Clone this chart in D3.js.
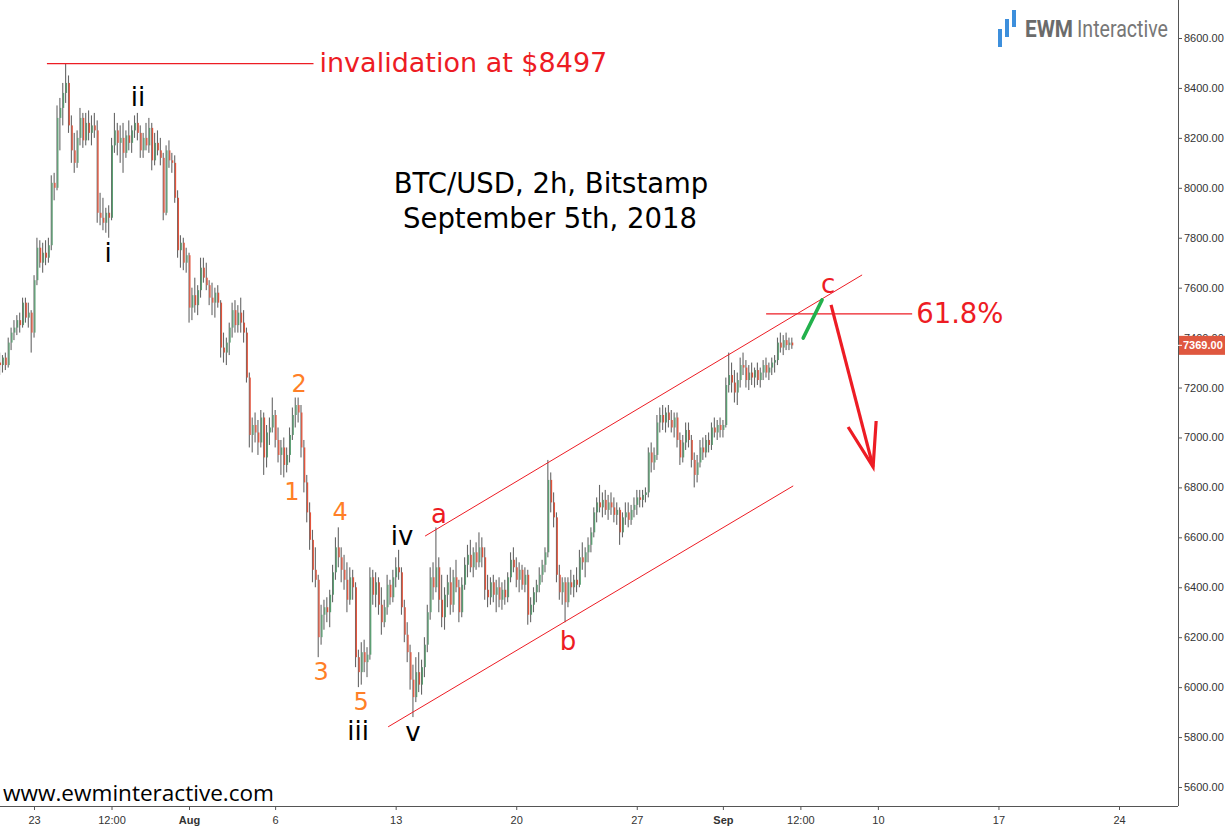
<!DOCTYPE html>
<html><head><meta charset="utf-8">
<script src="https://cdn.jsdelivr.net/npm/d3@7"></script>
<style>body{margin:0;background:#fff;} svg{display:block;}</style>
</head><body><svg id="c" width="1225" height="828"></svg>
<script>
// ---------- DATA ----------
const startTime = "2018-07-21T00:00Z";   // first 4h candle
const candleHours = 4;
const opens = [
7300,7290,7320,7290,7380,7420, 7440,7470,7450,7540,7480,7500, 7420,7630,7760,7700,7740,7720,
7770,8020,8000,8280,8320,8380, 8420,8250,8150,8100,8200,8280, 8190,8260,8220,8250,8230,7900,
7880,7860,7900,7880,8170,8230, 8180,8200,8140,8210,8180,8230, 8260,8220,8150,8200,8170,8240,
8110,8180,8150,8120,7900,8150, 8110,8100,7960,7750,7780,7700, 7730,7520,7570,7530,7590,7680,
7640,7610,7560,7540,7580,7540, 7360,7340,7380,7440,7510,7450, 7500,7460,7420,7240,7010,7050,
7020,6980,7080,6920,7020,7040, 7090,6990,6930,6960,6890,6930, 7010,7090,7130,7100,6960,6820,
6700,6590,6470,6430,6200,6290, 6320,6300,6370,6460,6560,6520, 6470,6430,6350,6440,6400,6120,
6060,6140,6100,6130,6440,6370, 6420,6330,6260,6320,6410,6360, 6440,6480,6460,6320,6210,6140,
6030,5960,6060,6010,6080,6170, 6300,6440,6400,6480,6350,6280, 6370,6420,6330,6440,6400,6300,
6410,6490,6530,6480,6540,6500, 6560,6520,6390,6360,6420,6370, 6400,6350,6390,6360,6440,6510,
6480,6430,6470,6410,6450,6290, 6330,6380,6410,6450,6490,6540, 6830,6740,6680,6450,6380,6420,
6340,6420,6400,6430,6410,6520, 6500,6540,6570,6620,6700,6740, 6720,6750,6710,6740,6720,6690,
6710,6620,6680,6700,6670,6710, 6730,6760,6750,6770,6780,6940, 6900,6930,7060,7090,7060,7100,
7070,7040,7080,6990,6920,6980, 7030,6990,6910,6850,6900,6960, 6940,6990,6970,7040,7020,7050,
7030,7050,7210,7250,7220,7180, 7230,7290,7280,7230,7260,7240, 7270,7230,7260,7290,7260,7280,
7300,7310,7380,7360,7390,7370, 7380];
const highs = [
7340,7330,7340,7400,7440,7470, 7490,7500,7560,7560,7540,7510, 7650,7800,7790,7780,7790,7800,
8050,8060,8330,8360,8420,8497, 8450,8290,8220,8230,8320,8300, 8300,8310,8290,8300,8270,7980,
7960,7920,7930,8200,8300,8260, 8250,8260,8230,8270,8250,8290, 8300,8250,8220,8260,8280,8260,
8220,8230,8200,8140,8170,8190, 8140,8130,7990,7810,7800,7760, 7740,7600,7640,7610,7720,7720,
7700,7630,7620,7600,7610,7550, 7420,7400,7460,7540,7550,7530, 7560,7510,7440,7260,7080,7100,
7070,7110,7100,7050,7080,7160, 7110,7040,6990,7000,6960,7040, 7120,7160,7160,7130,6990,6850,
6740,6630,6560,6450,6330,6350, 6360,6390,6490,6600,6640,6560, 6530,6500,6480,6470,6420,6150,
6180,6190,6160,6480,6470,6460, 6440,6400,6350,6450,6430,6470, 6520,6550,6480,6350,6260,6170,
6090,6120,6140,6110,6200,6330, 6480,6500,6640,6520,6450,6400, 6450,6480,6470,6510,6430,6440,
6520,6570,6590,6560,6580,6620, 6600,6560,6450,6440,6450,6430, 6440,6420,6430,6460,6540,6560,
6520,6500,6490,6480,6470,6360, 6400,6430,6480,6510,6560,6910, 6860,6780,6700,6490,6440,6440,
6440,6470,6450,6480,6550,6580, 6560,6600,6640,6720,6760,6810, 6780,6790,6770,6780,6760,6740,
6720,6700,6740,6740,6730,6760, 6790,6790,6790,6800,6960,6980, 6960,7090,7120,7130,7120,7130,
7110,7100,7100,7020,7010,7060, 7060,7010,6940,6930,6990,7000, 7010,7020,7060,7080,7070,7080,
7070,7240,7340,7300,7270,7260, 7320,7340,7310,7290,7300,7280, 7300,7280,7310,7320,7300,7320,
7330,7400,7420,7410,7420,7400, 7400];
const lows = [
7250,7260,7270,7280,7350,7390, 7410,7420,7440,7460,7440,7340, 7400,7610,7680,7660,7690,7700,
7750,7950,7990,8150,8250,8340, 8220,8100,8060,8080,8170,8160, 8170,8190,8170,8200,7860,7850,
7830,7820,7800,7870,8140,8130, 8100,8060,8120,8150,8140,8200, 8190,8120,8120,8150,8140,8070,
8090,8130,8090,7870,7890,8080, 8060,7940,7720,7680,7670,7660, 7460,7470,7500,7490,7560,7620,
7590,7530,7490,7480,7520,7320, 7300,7290,7330,7400,7420,7420, 7420,7380,7220,6960,6940,6980,
6930,6960,6850,6880,6970,7020, 6960,6900,6850,6840,6860,6900, 6990,7040,7060,6920,6780,6660,
6550,6420,6400,6120,6170,6230, 6260,6240,6340,6430,6480,6420, 6390,6300,6330,6350,6080,6000,
6010,6060,6040,6110,6330,6320, 6290,6210,6240,6290,6330,6340, 6400,6430,6290,6180,6100,5990,
5880,5940,5980,5970,6040,6140, 6270,6350,6380,6300,6240,6230, 6320,6290,6300,6380,6260,6280,
6390,6440,6460,6440,6470,6480, 6480,6350,6320,6330,6340,6300, 6320,6310,6330,6340,6420,6460,
6400,6380,6390,6380,6250,6260, 6300,6340,6380,6420,6460,6520, 6700,6640,6420,6350,6330,6260,
6320,6370,6360,6380,6400,6470, 6440,6500,6540,6600,6660,6700, 6680,6690,6670,6690,6660,6650,
6570,6600,6650,6640,6650,6680, 6690,6720,6720,6740,6760,6860, 6870,6910,7020,7030,7020,7040,
7020,7000,6960,6890,6900,6950, 6960,6880,6800,6820,6880,6910, 6920,6940,6950,7000,6990,7000,
7000,7040,7180,7180,7140,7130, 7200,7250,7200,7190,7210,7200, 7210,7200,7230,7240,7230,7250,
7260,7290,7340,7330,7350,7350, 7355];
const closes = [
7290,7320,7290,7380,7420,7440, 7470,7450,7540,7480,7500,7420, 7630,7760,7700,7740,7720,7770,
8020,8000,8280,8320,8380,8420, 8250,8150,8100,8200,8280,8190, 8260,8220,8250,8230,7900,7880,
7860,7900,7880,8170,8230,8180, 8200,8140,8210,8180,8230,8260, 8220,8150,8200,8170,8240,8110,
8180,8150,8120,7900,8150,8110, 8100,7960,7750,7780,7700,7730, 7520,7570,7530,7590,7680,7640,
7610,7560,7540,7580,7540,7360, 7340,7380,7440,7510,7450,7500, 7460,7420,7240,7010,7050,7020,
6980,7080,6920,7020,7040,7090, 6990,6930,6960,6890,6930,7010, 7090,7130,7100,6960,6820,6700,
6590,6470,6430,6200,6290,6320, 6300,6370,6460,6560,6520,6470, 6430,6350,6440,6400,6120,6060,
6140,6100,6130,6440,6370,6420, 6330,6260,6320,6410,6360,6440, 6480,6460,6320,6210,6140,6030,
5960,6060,6010,6080,6170,6300, 6440,6400,6480,6350,6280,6370, 6420,6330,6440,6400,6300,6410,
6490,6530,6480,6540,6500,6560, 6520,6390,6360,6420,6370,6400, 6350,6390,6360,6440,6510,6480,
6430,6470,6410,6450,6290,6330, 6380,6410,6450,6490,6540,6830, 6740,6680,6450,6380,6420,6340,
6420,6400,6430,6410,6520,6500, 6540,6570,6620,6700,6740,6720, 6750,6710,6740,6720,6690,6710,
6620,6680,6700,6670,6710,6730, 6760,6750,6770,6780,6940,6900, 6930,7060,7090,7060,7100,7070,
7040,7080,6990,6920,6980,7030, 6990,6910,6850,6900,6960,6940, 6990,6970,7040,7020,7050,7030,
7050,7210,7250,7220,7180,7230, 7290,7280,7230,7260,7240,7270, 7230,7260,7290,7260,7280,7300,
7310,7380,7360,7390,7370,7380, 7369];
const lastPrice = 7369;

const xTickDates = ["2018-07-23T00:00Z","2018-07-27T12:00Z","2018-08-01T00:00Z","2018-08-06T00:00Z",
  "2018-08-13T00:00Z","2018-08-20T00:00Z","2018-08-27T00:00Z","2018-09-01T00:00Z",
  "2018-09-05T12:00Z","2018-09-10T00:00Z","2018-09-17T00:00Z","2018-09-24T00:00Z"];
const xTickLabels = ["23","12:00","Aug","6","13","20","27","Sep","12:00","10","17","24"];
const xTickBold = ["Aug","Sep"];
const yTicks = [5600,5800,6000,6200,6400,6600,6800,7000,7200,7400,7600,7800,8000,8200,8400,8600];

// annotation data (date, price)
const invalidationLevel = 8497;
const invalidationSpan = ["2018-07-23T18:00Z","2018-08-08T05:30Z"];
const fibLevel = 7495;
const fibSpan = ["2018-09-03T12:15Z","2018-09-11T23:45Z"];
const channelUpperDates = ["2018-08-14T17:00Z","2018-09-09T02:00Z"];
const channelUpperPrices = [6605,7651];
const channelLowerDates = ["2018-08-12T13:30Z","2018-09-05T02:00Z"];
const channelLowerPrices = [5841,6806];
const forecastUpDates = ["2018-09-05T15:50Z","2018-09-06T18:15Z"];
const forecastUpPrices = [7398,7551];
const arrowShaftDates = ["2018-09-07T06:45Z","2018-09-09T17:20Z"];
const arrowShaftPrices = [7531,6882];
const arrowHeadDates = ["2018-09-08T06:30Z","2018-09-09T17:20Z","2018-09-09T21:35Z"];
const arrowHeadPrices = [7042,6882,7066];

const waveText   = ["ii","i","2","1","4","3","5","iii","iv","v","a","b","c"];
const waveDates  = ["2018-07-29T01:00Z","2018-07-27T07:10Z","2018-08-07T09:20Z","2018-08-06T23:30Z",
  "2018-08-09T18:30Z","2018-08-08T16:00Z","2018-08-10T23:45Z","2018-08-10T19:40Z","2018-08-13T09:00Z",
  "2018-08-14T00:15Z","2018-08-15T12:30Z","2018-08-23T00:15Z","2018-09-07T02:40Z"];
const wavePrices = [8328,7703,7182,6750,6670,6029,5909,5788,6569,5784,6658,6149,7579];
const waveDegree = ["minor","minor","minute","minute","minute","minute","minute","minor","minor","minor","abc","abc","abc"];

// ---------- CHART ----------
const W = 1225, H = 828, plotR = 1178, plotB = 806;
const svg = d3.select("#c");
const x = d3.scaleUtc().domain([new Date("2018-07-23T00:00Z"), new Date("2018-09-24T00:00Z")]).range([34,1119]);
const y = d3.scaleLinear().domain([5600,8600]).range([787,38]);
const t0 = new Date(startTime).getTime();
const candles = closes.map((c,i)=>({t:new Date(t0 + i*candleHours*3600e3), o:opens[i], h:highs[i], l:lows[i], c:c}));

svg.append("rect").attr("width",W).attr("height",H).attr("fill","#fff");
svg.append("clipPath").attr("id","plot").append("rect").attr("width",plotR).attr("height",plotB);

const pg = svg.append("g").attr("clip-path","url(#plot)");
// wicks
pg.append("g").selectAll("rect").data(candles).join("rect")
  .attr("x",d=>x(d.t)-0.5).attr("width",1.1)
  .attr("y",d=>y(d.h)).attr("height",d=>Math.max(1,y(d.l)-y(d.h)))
  .attr("fill","#676767");
// bodies
pg.append("g").selectAll("rect").data(candles).join("rect")
  .attr("x",d=>x(d.t)+0.2).attr("width",1.3)
  .attr("y",d=>y(Math.max(d.o,d.c))).attr("height",d=>Math.max(1,Math.abs(y(d.o)-y(d.c))))
  .attr("fill",d=>d.c>=d.o?"#5a9e72":"#e2533b");

const red = "#ed1c24";
const line = (ds,ps)=>d3.line()(ds.map((d,i)=>[x(new Date(d)), y(ps[i])]));
// channel
pg.append("path").attr("d",line(channelUpperDates,channelUpperPrices)).attr("stroke",red).attr("stroke-width",1).attr("fill","none");
pg.append("path").attr("d",line(channelLowerDates,channelLowerPrices)).attr("stroke",red).attr("stroke-width",1).attr("fill","none");
// invalidation line
pg.append("path").attr("d",line(invalidationSpan,[invalidationLevel,invalidationLevel])).attr("stroke",red).attr("stroke-width",1.2).attr("fill","none");
// fib line
pg.append("path").attr("d",line(fibSpan,[fibLevel,fibLevel])).attr("stroke",red).attr("stroke-width",1.2).attr("fill","none");
// forecast green
pg.append("path").attr("d",line(forecastUpDates,forecastUpPrices)).attr("stroke","#22b14c").attr("stroke-width",3.5).attr("stroke-linecap","round").attr("fill","none");
// red arrow
pg.append("path").attr("d",line(arrowShaftDates,arrowShaftPrices)).attr("stroke",red).attr("stroke-width",3.2).attr("fill","none");
pg.append("path").attr("d",line(arrowHeadDates,arrowHeadPrices)).attr("stroke",red).attr("stroke-width",3.2).attr("fill","none").attr("stroke-linejoin","miter");

// texts
const tf = "'DejaVu Sans', Verdana, sans-serif";
svg.append("text").attr("x",x(new Date(invalidationSpan[1]))+6).attr("y",y(invalidationLevel)+8)
  .attr("font-family",tf).attr("font-size",27).attr("fill",red).text("invalidation at $" + invalidationLevel);
svg.append("text").attr("x",x(new Date(fibSpan[1]))+4).attr("y",y(fibLevel)+9)
  .attr("font-family",tf).attr("font-size",27.5).attr("fill",red).text("61.8%");
svg.append("text").attr("x",551).attr("y",193).attr("text-anchor","middle")
  .attr("font-family",tf).attr("font-size",27.5).attr("fill","#000").text("BTC/USD, 2h, Bitstamp");
svg.append("text").attr("x",550).attr("y",228).attr("text-anchor","middle")
  .attr("font-family",tf).attr("font-size",27.5).attr("fill","#000").text("September 5th, 2018");

const degColor = {minor:"#000", minute:"#ff7f27", abc:red};
const degSize = {minor:26, minute:24, abc:26};
svg.append("g").selectAll("text").data(waveText).join("text")
  .attr("x",(d,i)=>x(new Date(waveDates[i]))).attr("y",(d,i)=>y(wavePrices[i]))
  .attr("text-anchor","middle").attr("font-family",tf)
  .attr("font-size",(d,i)=>degSize[waveDegree[i]]).attr("fill",(d,i)=>degColor[waveDegree[i]]).text(d=>d);

// axes
const af = "'Liberation Sans', Arial, sans-serif";
svg.append("line").attr("x1",0).attr("x2",plotR).attr("y1",plotB+0.5).attr("y2",plotB+0.5).attr("stroke","#555");
svg.append("line").attr("x1",plotR+0.5).attr("x2",plotR+0.5).attr("y1",0).attr("y2",plotB).attr("stroke","#555");
const gx = svg.append("g").attr("transform",`translate(0,${plotB})`)
  .call(d3.axisBottom(x).tickValues(xTickDates.map(d=>new Date(d))).tickFormat((d,i)=>xTickLabels[i]).tickSize(4).tickPadding(6));
gx.select(".domain").remove();
gx.selectAll("line").attr("stroke","#555");
gx.selectAll("text").attr("font-family",af).attr("font-size",11).attr("fill","#333")
  .attr("font-weight",(d,i)=>xTickBold.includes(xTickLabels[i])?"bold":"normal");
const gy = svg.append("g").attr("transform",`translate(${plotR},0)`)
  .call(d3.axisRight(y).tickValues(yTicks).tickFormat(d3.format(".2f")).tickSize(4).tickPadding(2));
gy.select(".domain").remove();
gy.selectAll("line").attr("stroke","#555");
gy.selectAll("text").attr("font-family",af).attr("font-size",11).attr("fill","#333");

// last price label
const ly = y(lastPrice);
svg.append("rect").attr("x",plotR+1).attr("y",ly-9.5).attr("width",W-plotR-1).attr("height",19).attr("fill","#df573f");
svg.append("line").attr("x1",plotR).attr("x2",plotR+4).attr("y1",ly).attr("y2",ly).attr("stroke","#fff");
svg.append("text").attr("x",plotR+5).attr("y",ly+4).attr("font-family",af).attr("font-size",11).attr("font-weight","bold")
  .attr("fill","#fff").text(d3.format(".2f")(lastPrice));

// logo
const logo = svg.append("g");
[[998,29,4,18],[1005,19,4,18],[1012,10,4,17]].forEach(r=>logo.append("rect").attr("x",r[0]).attr("y",r[1]).attr("width",r[2]).attr("height",r[3]).attr("fill","#3d8fdc"));
logo.append("text").attr("x",1025).attr("y",37).attr("font-family","Roboto, sans-serif").attr("font-weight","bold")
  .attr("font-size",23).attr("fill","#6b6b6b").attr("textLength",48).attr("lengthAdjust","spacingAndGlyphs").text("EWM");
logo.append("text").attr("x",1077).attr("y",37).attr("font-family","Roboto, sans-serif")
  .attr("font-size",23).attr("fill","#777").attr("textLength",91).attr("lengthAdjust","spacingAndGlyphs").text("Interactive");

// watermark
svg.append("text").attr("x",3).attr("y",801).attr("font-family","'Open Sans', 'Noto Sans', sans-serif")
  .attr("font-size",22).attr("fill","#000").attr("textLength",271).attr("lengthAdjust","spacingAndGlyphs").text("www.ewminteractive.com");
</script></body></html>
